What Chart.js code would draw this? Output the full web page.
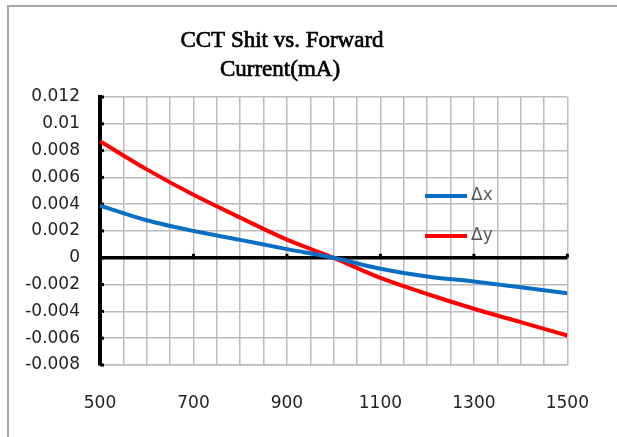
<!DOCTYPE html>
<html>
<head>
<meta charset="utf-8">
<script src="https://cdn.jsdelivr.net/npm/chart.js@4.4.0/dist/chart.umd.min.js"></script>
<style>
  html, body { margin: 0; padding: 0; background: #fff; }
  #wrap { position: relative; width: 617px; height: 437px; overflow: hidden; }
  #frame { position: absolute; left: 7px; top: 5px; width: 700px; height: 600px; border: 2px solid #a6a6a6; box-sizing: border-box; }
  canvas { position: absolute; left: 0; top: 0; }
</style>
</head>
<body>
<div id="wrap">
  <div id="frame"></div>
  <canvas id="cct" width="617" height="437"></canvas>
</div>
<script>
// forward current (mA)
const current = [500, 600, 700, 800, 900, 1000, 1100, 1200, 1300, 1400, 1500];
// chromaticity shift
const deltaX = [0.0039, 0.0028, 0.0020, 0.00134, 0.00065, 0.0, -0.00082, -0.0014, -0.00177, -0.0022, -0.00264];
const deltaY = [0.0087, 0.0066, 0.0047, 0.0030, 0.00135, 0.0, -0.0015, -0.0027, -0.0038, -0.0048, -0.0058];
const xTickLabels = [500, 700, 900, 1100, 1300, 1500];
const titleLines = ['CCT Shit vs. Forward', 'Current(mA)'];
const seriesNames = ['\u0394x', '\u0394y'];

const toPoints = (ys) => current.map((c, i) => ({ x: c, y: ys[i] }));

// title, in-plot legend and the small axis tick marks
const decorations = {
    id: 'decorations',
    beforeDatasetsDraw(chart) {
        const ctx = chart.ctx;
        const xs = chart.scales.x, ys = chart.scales.y;
        const left = chart.chartArea.left;
        const zero = ys.getPixelForValue(0);
        ctx.save();
        ctx.fillStyle = '#000';
        ys.ticks.forEach(t => {
            const py = ys.getPixelForValue(t.value);
            ctx.fillRect(left, py - 1.5, 4, 3);
        });
        xTickLabels.forEach(v => {
            const px = xs.getPixelForValue(v);
            ctx.fillRect(px - 1.5, zero - 4, 3, 4);
        });
        ctx.restore();
    },
    afterDatasetsDraw(chart) {
        const ctx = chart.ctx;
        ctx.save();
        const rows = [196, 236];
        chart.data.datasets.forEach((ds, i) => {
            ctx.strokeStyle = ds.borderColor;
            ctx.lineWidth = 4;
            ctx.beginPath();
            ctx.moveTo(425, rows[i]);
            ctx.lineTo(467, rows[i]);
            ctx.stroke();
            ctx.fillStyle = '#595959';
            ctx.font = '17px "DejaVu Sans"';
            ctx.textBaseline = 'middle';
            ctx.fillText(ds.label, 471, rows[i]);
        });
        ctx.font = '23px "Liberation Serif"';
        ctx.fillStyle = '#000';
        ctx.strokeStyle = '#000';
        ctx.lineWidth = 0.7;
        ctx.textAlign = 'center';
        ctx.textBaseline = 'alphabetic';
        ctx.fillText(titleLines[0], 282, 47);
        ctx.strokeText(titleLines[0], 282, 47);
        ctx.fillText(titleLines[1], 280, 76);
        ctx.strokeText(titleLines[1], 280, 76);
        ctx.restore();
    }
};

const ctx = document.getElementById('cct').getContext('2d');
const chart = new Chart(ctx, {
    type: 'line',
    data: {
        datasets: [{
            label: seriesNames[0],
            data: toPoints(deltaX),
            borderColor: '#0a6fc2',
            borderWidth: 4,
            pointRadius: 0,
            cubicInterpolationMode: 'monotone'
        }, {
            label: seriesNames[1],
            data: toPoints(deltaY),
            borderColor: '#ff0000',
            borderWidth: 4,
            pointRadius: 0,
            cubicInterpolationMode: 'monotone'
        }]
    },
    options: {
        responsive: false,
        animation: false,
        layout: { padding: { left: 0, right: 48, top: 97, bottom: 0 } },
        plugins: {
            legend: { display: false },
            title: { display: false },
            tooltip: { enabled: false }
        },
        scales: {
            x: {
                type: 'linear',
                min: 500,
                max: 1500,
                afterFit: (s) => { s.height = 72; },
                afterBuildTicks: (s) => {
                    const t = [];
                    for (let v = 500; v <= 1500; v += 50) t.push({ value: v });
                    s.ticks = t;
                },
                ticks: {
                    autoSkip: false,
                    maxRotation: 0,
                    padding: 28,
                    color: '#222',
                    font: { family: 'DejaVu Sans', size: 17 },
                    callback: (v) => xTickLabels.includes(v) ? String(v) : ''
                },
                grid: { color: '#bcbcbc', lineWidth: 1.5, drawTicks: false },
                border: { color: '#bcbcbc', width: 1.5 }
            },
            y: {
                min: -0.008,
                max: 0.012,
                afterFit: (s) => { s.width = 100; },
                ticks: {
                    stepSize: 0.002,
                    padding: 20,
                    color: '#222',
                    font: { family: 'DejaVu Sans', size: 17 },
                    callback: (v) => String(Number(v.toFixed(3)))
                },
                grid: {
                    drawTicks: false,
                    color: (c) => Math.abs(c.tick.value) < 1e-9 ? '#000' : '#bcbcbc',
                    lineWidth: (c) => Math.abs(c.tick.value) < 1e-9 ? 3.5 : 1.5
                },
                border: { color: '#000', width: 4 }
            }
        }
    },
    plugins: [decorations]
});
</script>
</body>
</html>
